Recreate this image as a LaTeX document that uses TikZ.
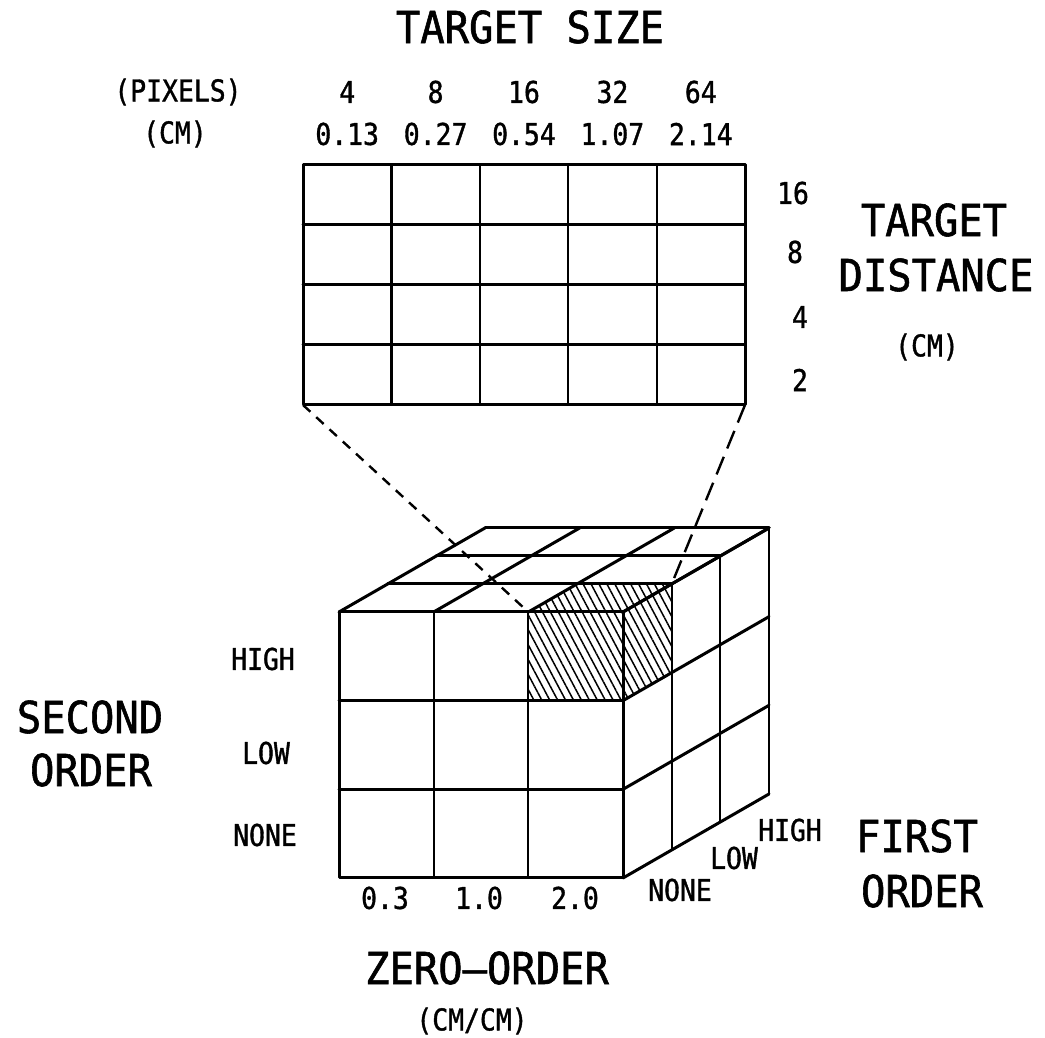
\documentclass[tikz,border=0pt]{standalone}
\usepackage{fontspec}
\newfontfamily\plotfont[FakeStretch=0.92,FakeBold=1.3]{DejaVu Sans Mono}
\newfontfamily\plotfontsm[FakeStretch=0.88,FakeBold=1.2]{DejaVu Sans Mono}
\usepackage{tikz}
\usetikzlibrary{patterns.meta,calc}

\begin{document}
\begin{tikzpicture}[x=1pt,y=1pt,
  bigtxt/.style={font=\plotfont\fontsize{44}{44}\selectfont,inner sep=0pt},
  medtxt/.style={font=\plotfontsm\fontsize{30}{30}\selectfont,inner sep=0pt},
  gridln/.style={line width=3pt,line cap=round,line join=round},
  thinln/.style={line width=2.2pt},
  linkdash/.style={line width=2.4pt,dash pattern=on 10pt off 8pt},
  linkdashlong/.style={line width=2.4pt,dash pattern=on 19pt off 9pt}
]
  \useasboundingbox (0,0) rectangle (1045,1038);
  % Title and column labels
  \node[bigtxt] (tsize) at (530,1011) {TARGET SIZE};
  \node[medtxt] (pixhead) at (178,946) {(PIXELS)};
  \node[medtxt] (cmhead) at (175,904) {(CM)};
  \foreach \px/\cm [count=\i] in {4/0.13,8/0.27,16/0.54,32/1.07,64/2.14}{
    \node[medtxt] (px\i) at (303+88.4*\i-44.2,946) {\px};
    \node[medtxt] (cm\i) at (303+88.4*\i-44.2,904) {\cm};
  }
  % Top grid (size x distance)
  \draw[gridln] (303,633) rectangle (745,873);
  \foreach \i in {1,...,4} \draw[thinln] (303+88.4*\i,633) -- ++(0,240);
  \foreach \j in {1,2,3} \draw[gridln] (303,633+60*\j) -- ++(442,0);
  \coordinate (gridbl) at (303,633);
  \coordinate (gridbr) at (745,633);
  % Distance labels (right)
  \node[medtxt] (d16) at (793,845) {16};
  \node[medtxt] (d8) at (795,786) {8};
  \node[medtxt] (d4) at (800,721) {4};
  \node[medtxt] (d2) at (800,658) {2};
  \node[bigtxt] (tdist1) at (934,818) {TARGET};
  \node[bigtxt] (tdist2) at (936,763) {DISTANCE};
  \node[medtxt] (tdistcm) at (927,691) {(CM)};
  % Hatched cell of the cube
  \fill[pattern={Lines[angle=-62,distance=7pt,line width=1.5pt]}]
    (528.3,337.3) rectangle (623,426);
  \fill[pattern={Lines[angle=-62,distance=7pt,line width=1.5pt]}]
    (528.3,426) -- (623,426) -- (671.7,454) -- (577,454) -- cycle;
  \fill[pattern={Lines[angle=-62,distance=7pt,line width=1.5pt]}]
    (623,337.3) -- (671.7,365.3) -- (671.7,454) -- (623,426) -- cycle;
  % Cube: front face
  \draw[gridln] (339,160) rectangle (623,426);
  \foreach \i in {1,2} \draw[thinln] (339+94.67*\i,160) -- ++(0,266);
  \foreach \j in {1,2} \draw[gridln] (339,160+88.67*\j) -- ++(284,0);
  % Cube: top face
  \foreach \k in {1,2,3} \draw[gridln] (339+48.67*\k,426+28*\k) -- ++(284,0);
  \foreach \i in {0,...,3} \draw[gridln] (339+94.67*\i,426) -- ++(146,84);
  % Cube: right face
  \foreach \k in {1,2,3} \draw[thinln] (623+48.67*\k,160+28*\k) -- ++(0,266);
  \foreach \j in {0,...,3} \draw[gridln] (623,160+88.67*\j) -- ++(146,84);
  \coordinate (hatchfront) at (528.3,426);
  \coordinate (hatchback) at (671.7,454);
  % Dashed links
  \draw[linkdash] (gridbl) -- (hatchfront);
  \draw[linkdashlong] (gridbr) -- (hatchback);
  % Second order labels
  \node[medtxt] (high) at (263,379) {HIGH};
  \node[medtxt] (low) at (266,285) {LOW};
  \node[medtxt] (none) at (265,203) {NONE};
  \node[bigtxt] (second1) at (90,321) {SECOND};
  \node[bigtxt] (second2) at (91,268) {ORDER};
  % Zero order labels
  \node[medtxt] (z1) at (385,140) {0.3};
  \node[medtxt] (z2) at (479,140) {1.0};
  \node[medtxt] (z3) at (575,140) {2.0};
  \node[bigtxt] (zero) at (487,70) {ZERO—ORDER};
  \node[medtxt] (zerocm) at (472,17) {(CM/CM)};
  % First order labels
  \node[medtxt] (fnone) at (680,148) {NONE};
  \node[medtxt] (flow) at (734,180) {LOW};
  \node[medtxt] (fhigh) at (790,208) {HIGH};
  \node[bigtxt] (first1) at (917,202) {FIRST};
  \node[bigtxt] (first2) at (922,147) {ORDER};
\end{tikzpicture}
\end{document}
